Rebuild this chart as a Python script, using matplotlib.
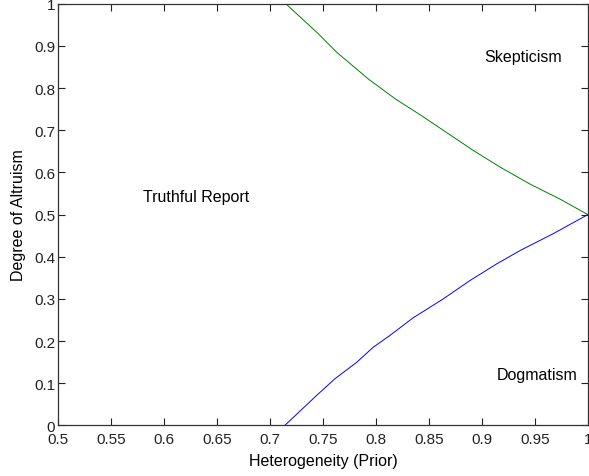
import matplotlib
matplotlib.use('Agg')
import matplotlib.pyplot as plt

plt.rcParams['font.family'] = ['Liberation Sans', 'DejaVu Sans']

# upper boundary (skepticism / truthful)
green_x = [0.715, 0.7456, 0.763, 0.7927, 0.818, 0.8440, 0.873, 0.892, 0.917, 0.945, 0.9736, 1.0]
green_y = [1.0, 0.929, 0.885, 0.822, 0.775, 0.733, 0.684, 0.652, 0.613, 0.573, 0.537, 0.5]

# lower boundary (dogmatism / truthful)
blue_x = [0.714, 0.744, 0.761, 0.782, 0.7975, 0.813, 0.835, 0.8635, 0.8887, 0.9139, 0.936, 0.967, 1.0]
blue_y = [0.0, 0.071, 0.110, 0.150, 0.1855, 0.213, 0.255, 0.300, 0.3435, 0.383, 0.4147, 0.4543, 0.5]

x_ticks = [0.5, 0.55, 0.6, 0.65, 0.7, 0.75, 0.8, 0.85, 0.9, 0.95, 1.0]
x_ticklabels = ['0.5', '0.55', '0.6', '0.65', '0.7', '0.75', '0.8', '0.85', '0.9', '0.95', '1']
y_ticks = [0, 0.1, 0.2, 0.3, 0.4, 0.5, 0.6, 0.7, 0.8, 0.9, 1.0]
y_ticklabels = ['0', '0.1', '0.2', '0.3', '0.4', '0.5', '0.6', '0.7', '0.8', '0.9', '1']

fig = plt.figure(figsize=(5.89, 4.77), dpi=100)
ax = fig.add_axes([0.0985, 0.106, 0.8995, 0.884])

ax.plot(green_x, green_y, color=(0, 0.5, 0), linewidth=0.7)
ax.plot(blue_x, blue_y, color=(0, 0, 1), linewidth=0.7)

ax.text(0.58, 0.544, 'Truthful Report', fontsize=11.5, va='center', ha='left')
ax.text(0.902, 0.874, 'Skepticism', fontsize=11.5, va='center', ha='left')
ax.text(0.914, 0.121, 'Dogmatism', fontsize=11.5, va='center', ha='left')

ax.set_xlim(0.5, 1.0)
ax.set_ylim(0, 1)
ax.set_xticks(x_ticks)
ax.set_xticklabels(x_ticklabels)
ax.set_yticks(y_ticks)
ax.set_yticklabels(y_ticklabels)
ax.tick_params(direction='in', top=True, right=True, length=5, width=0.8,
               labelsize=11, pad=2, colors='#222222')
ax.tick_params(axis='x', pad=5)
for s in ax.spines.values():
    s.set_linewidth(0.9)
    s.set_color('#333333')

ax.set_xlabel('Heterogeneity (Prior)', fontsize=11.5, labelpad=5)
ax.set_ylabel('Degree of Altruism', fontsize=11.5, labelpad=6)

fig.savefig('out.png', dpi=100)
